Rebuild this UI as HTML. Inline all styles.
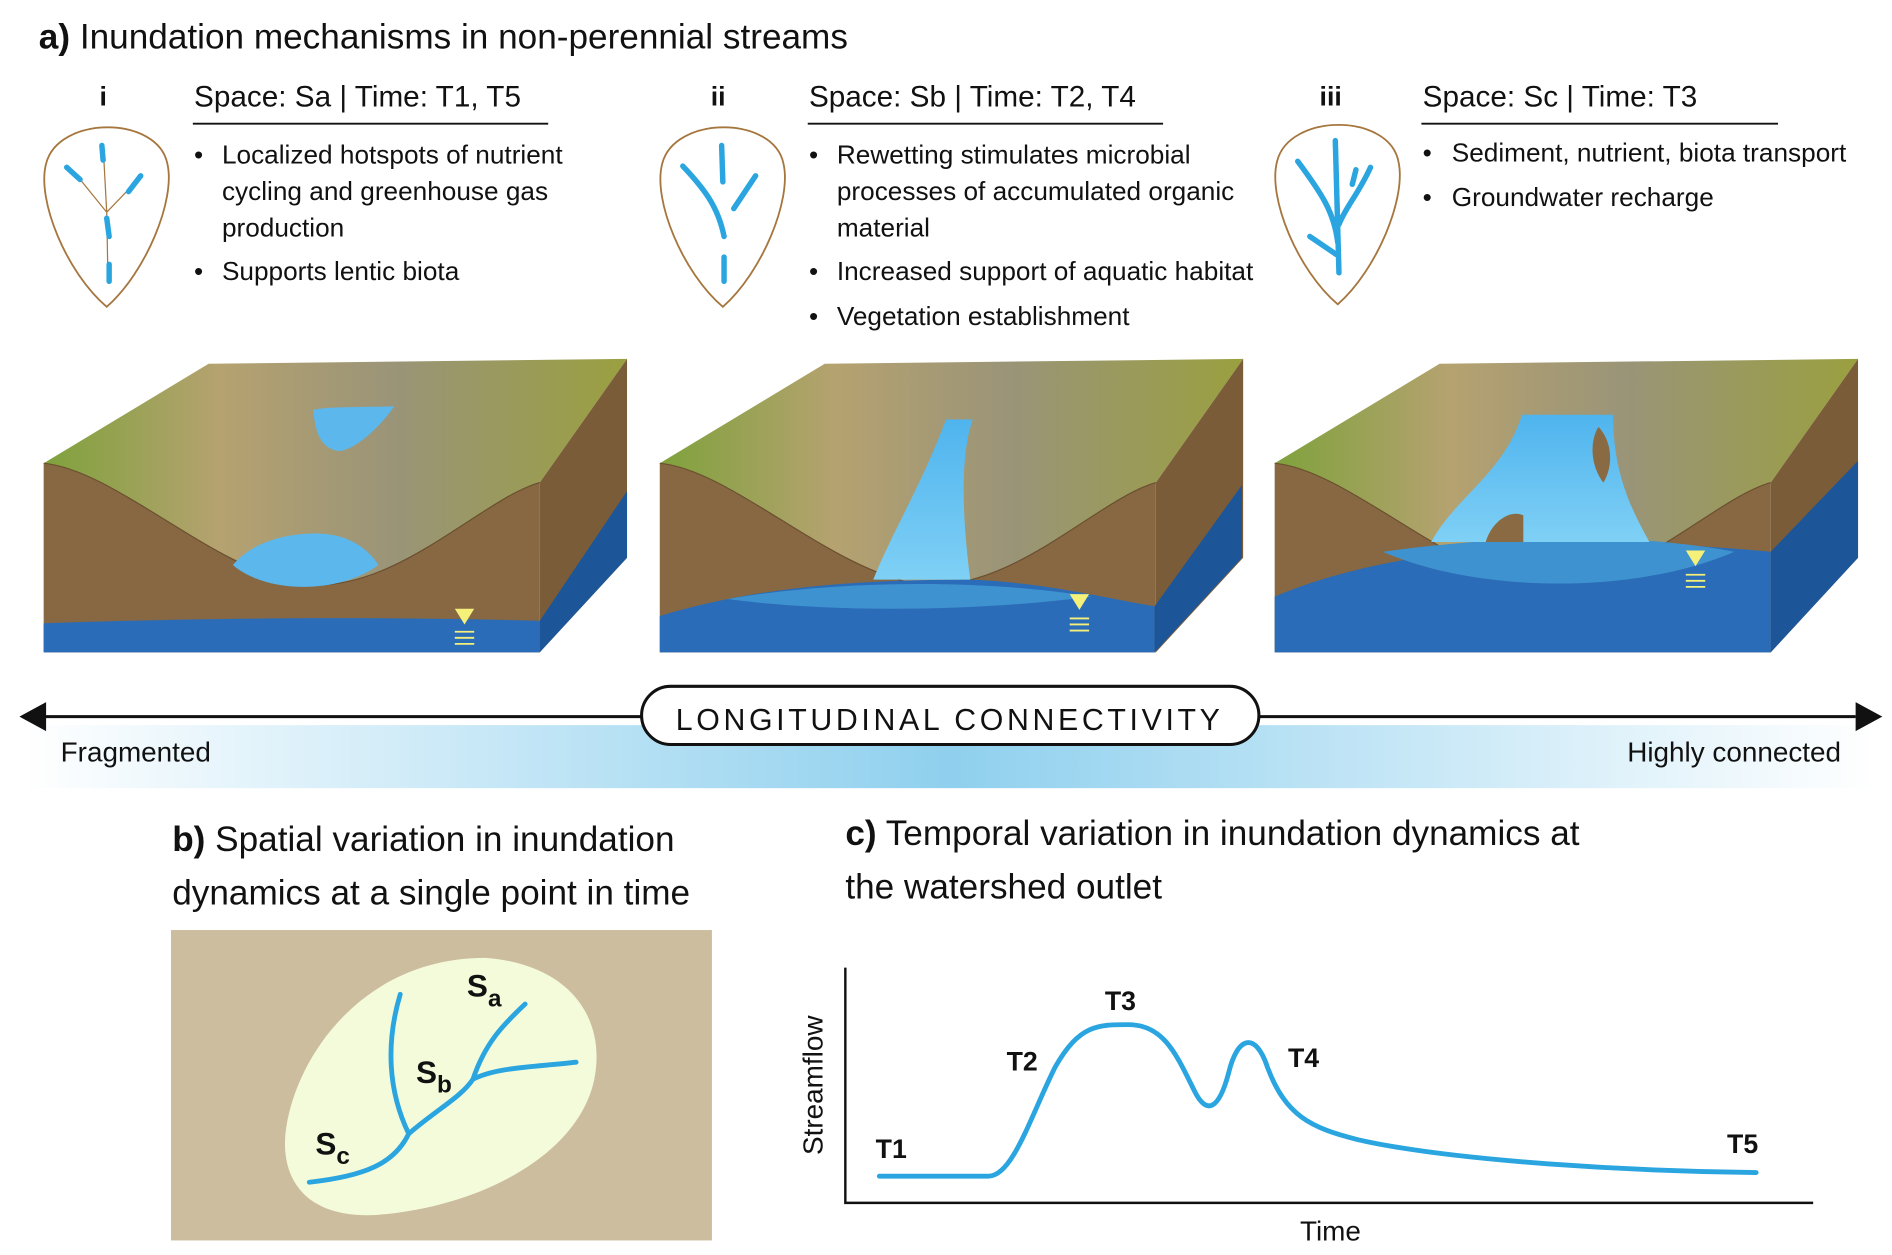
<!DOCTYPE html>
<html><head><meta charset="utf-8"><style>
html,body{margin:0;padding:0;background:#fff}
svg{display:block}
text{font-family:"Liberation Sans Narrow","Liberation Sans",sans-serif;fill:#111}
</style></head><body>
<svg width="1892" height="1255" viewBox="0 0 1560 1035" preserveAspectRatio="none" xmlns="http://www.w3.org/2000/svg">
<defs>
<linearGradient id="top" x1="0" y1="0" x2="1" y2="0">
<stop offset="0" stop-color="#7fa23c"/><stop offset="0.3" stop-color="#b5a270"/><stop offset="0.6" stop-color="#9a9478"/><stop offset="1" stop-color="#9aa040"/>
</linearGradient>
<linearGradient id="band" x1="0" y1="0" x2="1" y2="0">
<stop offset="0" stop-color="#fff"/><stop offset="0.5" stop-color="#8fd0ee"/><stop offset="1" stop-color="#fff"/>
</linearGradient>
<linearGradient id="wat" x1="0" y1="0" x2="0" y2="1">
<stop offset="0" stop-color="#4fb4ee"/><stop offset="1" stop-color="#7fd0f5"/>
</linearGradient>
<g id="block">
<path d="M0,82 L136,0 L481,-4 L409,98 C360,112 290,190 214,182 C140,170 60,88 0,82Z" fill="url(#top)"/>
<path d="M0,82 C60,88 140,170 214,182 C290,190 360,112 409,98 L409,238 L0,238 Z" fill="#876842"/>
<polygon points="409,98 481,-4 481,160 409,238" fill="#7a5c38"/>
<path d="M0,82 C60,88 140,170 214,182 C290,190 360,112 409,98" fill="none" stroke="#6b5030" stroke-width="1"/>
</g>
</defs>

<text x="32" y="40" font-size="29"><tspan font-weight="bold">a)</tspan> Inundation mechanisms in non-perennial streams</text>

<g font-size="24.5">
<text x="82" y="87" font-weight="bold" font-size="22">i</text>
<text x="160" y="88">Space: Sa | Time: T1, T5</text>
<text x="586" y="87" font-weight="bold" font-size="22">ii</text>
<text x="667" y="88">Space: Sb | Time: T2, T4</text>
<text x="1088" y="87" font-weight="bold" font-size="22">iii</text>
<text x="1173" y="88">Space: Sc | Time: T3</text>
</g>
<g stroke="#111" stroke-width="1.5">
<line x1="159" y1="102" x2="452" y2="102"/><line x1="666" y1="102" x2="959" y2="102"/><line x1="1172" y1="102" x2="1466" y2="102"/>
</g>
<g font-size="21.6">
<text x="160" y="135">•</text><text x="183" y="135">Localized hotspots of nutrient</text>
<text x="183" y="165">cycling and greenhouse gas</text>
<text x="183" y="195">production</text>
<text x="160" y="231">•</text><text x="183" y="231">Supports lentic biota</text>
<text x="667" y="135">•</text><text x="690" y="135">Rewetting stimulates microbial</text>
<text x="690" y="165">processes of accumulated organic</text>
<text x="690" y="195">material</text>
<text x="667" y="231">•</text><text x="690" y="231">Increased support of aquatic habitat</text>
<text x="667" y="268">•</text><text x="690" y="268">Vegetation establishment</text>
<text x="1173" y="133">•</text><text x="1197" y="133">Sediment, nutrient, biota transport</text>
<text x="1173" y="170">•</text><text x="1197" y="170">Groundwater recharge</text>
</g>

<g fill="none" stroke="#a5763e" stroke-width="1.5">
<path d="M88,253 C55,225 30,165 38,135 C48,95 130,95 138,135 C145,165 120,225 88,253Z"/>
<path d="M596,253 C563,225 538,165 546,135 C556,95 638,95 646,135 C653,165 628,225 596,253Z"/>
<path d="M1103,251 C1070,223 1045,163 1053,133 C1063,93 1145,93 1153,133 C1160,163 1135,223 1103,251Z"/>
</g>
<g stroke="#a5763e" stroke-width="1" fill="none">
<path d="M89,230 L88,175 L85,120 M88,175 L62,143 M88,175 L115,147"/>
</g>
<g stroke="#2aa5e0" stroke-width="4.5" stroke-linecap="round" fill="none">
<path d="M84,120 L85,132 M55,138 L66,148 M116,145 L106,158 M88,180 L90,195 M90,218 L90,232"/>
<path d="M595,120 L596,150 M563,137 C580,155 592,170 597,195 M623,145 L605,172 M597,212 L597,232"/>
<path d="M1101,116 L1104,225 M1070,133 C1090,160 1100,175 1103,200 M1130,138 C1120,160 1110,170 1104,185 M1118,140 L1115,152 M1080,195 L1102,210"/>
</g>

<g transform="translate(36,300)"><use href="#block"/></g>
<path d="M36,514 C150,510 300,508 445,512 L445,538 L36,538Z" fill="#2b6cb8"/>
<polygon points="445,512 517,405 517,460 445,538" fill="#1c5699"/>
<path d="M192,466 C205,450 230,440 260,440 C290,440 305,455 312,466 C280,490 220,490 192,466Z" fill="#5cb7ec"/>
<path d="M258,338 C270,335 300,336 325,335 C315,350 295,370 280,372 C262,370 260,352 258,338Z" fill="#5cb7ec"/>
<polygon points="375,502 391,502 383,515" fill="#f5f07a"/>
<g stroke="#f5f07a" stroke-width="1.5"><line x1="375" y1="521" x2="391" y2="521"/><line x1="375" y1="526" x2="391" y2="526"/><line x1="375" y1="531" x2="391" y2="531"/></g>

<g transform="translate(544,300)"><use href="#block"/></g>
<path d="M544,508 C620,485 700,478 800,478 C860,480 920,495 952,500 L952,538 L544,538Z" fill="#2b6cb8"/>
<path d="M600,494 C680,480 800,476 900,492 C800,505 680,505 600,494Z" fill="#3e92cf"/>
<polygon points="952,500 1024,400 1024,460 952,538" fill="#1c5699"/>
<path d="M780,346 L802,346 C790,380 795,440 800,478 L720,478 C735,440 760,400 780,346Z" fill="url(#wat)"/>
<polygon points="882,490 898,490 890,503" fill="#f5f07a"/>
<g stroke="#f5f07a" stroke-width="1.5"><line x1="882" y1="510" x2="898" y2="510"/><line x1="882" y1="515" x2="898" y2="515"/><line x1="882" y1="520" x2="898" y2="520"/></g>

<g transform="translate(1051,300)"><use href="#block"/></g>
<path d="M1051,492 C1150,450 1300,440 1460,455 L1460,538 L1051,538Z" fill="#2b6cb8"/>
<path d="M1140,455 C1250,440 1350,440 1430,455 C1350,490 1220,490 1140,455Z" fill="#3e92cf"/>
<polygon points="1460,455 1532,380 1532,460 1460,538" fill="#1c5699"/>
<path d="M1255,342 L1330,342 C1330,390 1345,420 1360,447 L1180,447 C1200,410 1240,390 1255,342Z" fill="url(#wat)"/>
<path d="M1225,447 C1230,430 1245,420 1256,425 L1256,447Z" fill="#8a6a42"/>
<path d="M1318,352 C1330,365 1330,385 1322,398 C1312,385 1310,365 1318,352Z" fill="#8a6a42"/>
<polygon points="1390,454 1406,454 1398,467" fill="#f5f07a"/>
<g stroke="#f5f07a" stroke-width="1.5"><line x1="1390" y1="474" x2="1406" y2="474"/><line x1="1390" y1="479" x2="1406" y2="479"/><line x1="1390" y1="484" x2="1406" y2="484"/></g>

<rect x="18" y="598" width="1530" height="52" fill="url(#band)"/>
<line x1="35" y1="591" x2="1530" y2="591" stroke="#111" stroke-width="2.5"/>
<polygon points="16,591 38,579 38,603" fill="#111"/>
<polygon points="1552,591 1530,579 1530,603" fill="#111"/>
<rect x="529" y="566" width="509" height="48" rx="24" fill="#fff" stroke="#111" stroke-width="2.5"/>
<text x="783" y="602" font-size="25" text-anchor="middle" letter-spacing="3" font-family="Liberation Sans,sans-serif">LONGITUDINAL CONNECTIVITY</text>
<text x="50" y="628" font-size="23">Fragmented</text>
<text x="1518" y="628" font-size="23" text-anchor="end">Highly connected</text>

<text x="142" y="702" font-size="29"><tspan font-weight="bold">b)</tspan> Spatial variation in inundation</text>
<text x="142" y="746" font-size="29">dynamics at a single point in time</text>
<rect x="141" y="767" width="446" height="256" fill="#cdbd9f"/>
<path d="M400,790 C470,795 500,840 490,890 C478,950 400,995 310,1002 C250,1005 230,970 236,930 C245,870 300,790 400,790Z" fill="#f4fbdb"/>
<g stroke="#2aa5e0" stroke-width="4" fill="none" stroke-linecap="round">
<path d="M255,975 C300,970 325,960 337,935 C360,915 380,905 390,890 C410,880 440,880 475,876"/>
<path d="M337,935 C320,900 318,860 330,820"/>
<path d="M390,890 C400,860 415,845 433,828"/>
</g>
<g font-size="26" font-weight="bold" font-family="Liberation Sans,sans-serif">
<text x="385" y="822">S<tspan font-size="20" dy="8">a</tspan></text>
<text x="343" y="893">S<tspan font-size="20" dy="8">b</tspan></text>
<text x="260" y="952">S<tspan font-size="20" dy="8">c</tspan></text>
</g>

<text x="697" y="697" font-size="29"><tspan font-weight="bold">c)</tspan> Temporal variation in inundation dynamics at</text>
<text x="697" y="741" font-size="29">the watershed outlet</text>
<path d="M697,798 L697,992 L1495,992" fill="none" stroke="#111" stroke-width="2"/>
<text x="678" y="895" font-size="23" transform="rotate(-90 678 895)" text-anchor="middle">Streamflow</text>
<text x="1097" y="1023" font-size="23" text-anchor="middle">Time</text>
<path d="M725,970 L815,970 C835,970 850,920 870,880 C890,845 905,845 930,845 C960,845 970,870 985,900 C995,920 1005,915 1013,885 C1020,855 1035,850 1045,880 C1060,920 1080,930 1120,940 C1200,958 1350,966 1448,967" fill="none" stroke="#2aa5e0" stroke-width="4" stroke-linecap="round"/>
<g font-size="22" font-weight="bold" font-family="Liberation Sans,sans-serif">
<text x="722" y="955">T1</text><text x="830" y="883">T2</text><text x="911" y="833">T3</text><text x="1062" y="880">T4</text><text x="1424" y="951">T5</text>
</g>
</svg>
</body></html>
